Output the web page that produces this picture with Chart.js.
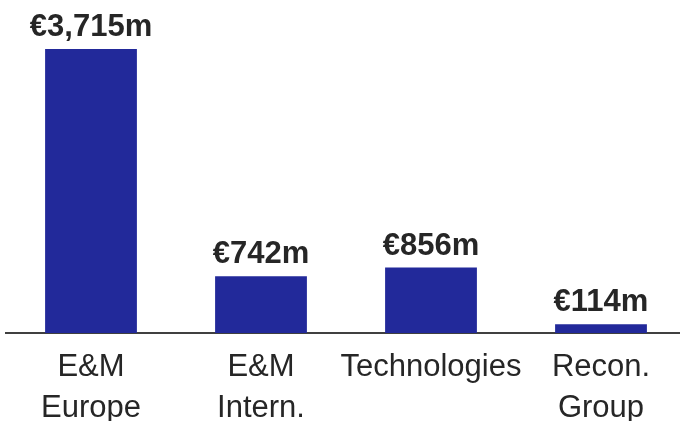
<!DOCTYPE html>
<html>
<head>
<meta charset="utf-8">
<script src="https://cdn.jsdelivr.net/npm/chart.js@4"></script>
<style>
  html, body { margin: 0; padding: 0; background: #fff; overflow: hidden; }
  #wrap { width: 686px; height: 421px; }
</style>
</head>
<body>
<div id="wrap"><canvas id="segChart" width="686" height="421"></canvas></div>
<script>
// ── Revenue by segment ──
const segments = [['E&M', 'Europe'], ['E&M', 'Intern.'], 'Technologies', ['Recon.', 'Group']];
const revenue = [3715, 742, 856, 114];
const valueLabels = ['€3,715m', '€742m', '€856m', '€114m'];

const barColor = '#22299a';
const textColor = '#262626';
const fontFamily = '"Liberation Sans", Arial, sans-serif';

// value labels above bars
const barLabels = {
  id: 'barLabels',
  afterDatasetsDraw(chart) {
    const ctx = chart.ctx;
    const meta = chart.getDatasetMeta(0);
    ctx.save();
    ctx.font = 'bold 31px ' + fontFamily;
    ctx.fillStyle = textColor;
    ctx.textAlign = 'center';
    ctx.textBaseline = 'alphabetic';
    meta.data.forEach((bar, i) => {
      ctx.fillText(valueLabels[i], bar.x, bar.y - 13);
    });
    ctx.restore();
  }
};

new Chart(document.getElementById('segChart'), {
  type: 'bar',
  data: {
    labels: segments,
    datasets: [{
      data: revenue,
      backgroundColor: barColor,
      borderWidth: 0,
      barPercentage: 0.54,
      categoryPercentage: 1
    }]
  },
  options: {
    responsive: false,
    animation: false,
    layout: { padding: { left: 6, right: 0, top: 0, bottom: 0 } },
    plugins: { legend: { display: false }, tooltip: { enabled: false } },
    scales: {
      x: {
        grid: { display: false },
        border: { display: true, color: '#404040', width: 2 },
        ticks: {
          color: textColor,
          font: { family: fontFamily, size: 31, lineHeight: 1.32 },
          padding: 6,
          maxRotation: 0,
          autoSkip: false
        },
        afterFit(scale) { scale.height = 88; }
      },
      y: {
        display: false,
        min: 0,
        max: 4356
      }
    }
  },
  plugins: [barLabels]
});
</script>
</body>
</html>
